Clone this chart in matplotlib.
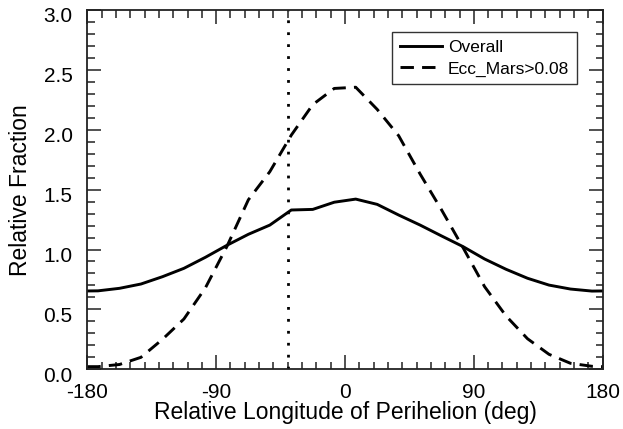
"""
Relative Fraction vs Relative Longitude of Perihelion
"""

import numpy as np
import matplotlib
matplotlib.use("Agg")
import matplotlib.pyplot as plt
import matplotlib.transforms as mtransforms
from matplotlib.ticker import MultipleLocator, FormatStrFormatter

# bin centres (deg), with the wrap points at +-180
lon = [-180, -172.5, -157.5, -142.5, -127.5, -112.5, -97.5, -82.5, -67.5,
       -52.5, -37.5, -22.5, -7.5, 7.5, 22.5, 37.5, 52.5, 67.5, 82.5,
       97.5, 112.5, 127.5, 142.5, 157.5, 172.5, 180]

overall = [0.654, 0.655, 0.676, 0.712, 0.773, 0.843, 0.935, 1.035, 1.127,
           1.204, 1.330, 1.335, 1.395, 1.421, 1.377, 1.288, 1.204, 1.113,
           1.024, 0.921, 0.835, 0.760, 0.703, 0.670, 0.653, 0.654]

ecc_mars = [0.022, 0.022, 0.040, 0.100, 0.250, 0.420, 0.680, 1.025, 1.415,
            1.650, 1.955, 2.210, 2.345, 2.355, 2.170, 1.950, 1.630, 1.330,
            1.015, 0.690, 0.445, 0.255, 0.125, 0.050, 0.025, 0.022]

mars_lon = -40  # dotted reference line

series_labels = ["Overall", "Ecc_Mars>0.08"]
x_ticks = [-180, -90, 0, 90, 180]

plt.rcParams['font.family'] = ['Liberation Sans', 'DejaVu Sans']
plt.rcParams['axes.unicode_minus'] = False

fig = plt.figure(figsize=(6.23, 4.29), dpi=100)
ax = fig.add_axes([0.1401, 0.1392, 0.8273, 0.8375])

ax.plot(lon, overall, color='black', linewidth=2.1, label=series_labels[0])
ax.plot(lon, ecc_mars, color='black', linewidth=2.1, linestyle=(0, (4.6, 2.8)),
        label=series_labels[1])
ax.axvline(mars_lon, color='black', linewidth=2.0, linestyle=(0, (1, 3.3)))

ax.set_xlim(-180, 180)
ax.set_ylim(0, 3.0)
ax.set_xticks(x_ticks)
ax.xaxis.set_minor_locator(MultipleLocator(10))
ax.yaxis.set_major_locator(MultipleLocator(0.5))
ax.yaxis.set_minor_locator(MultipleLocator(0.1))
ax.yaxis.set_major_formatter(FormatStrFormatter('%.1f'))

ax.tick_params(which='both', direction='in', top=True, right=True,
               color='#222222', labelsize=15)
ax.tick_params(which='major', length=10, width=1.1)
ax.tick_params(which='minor', length=5.4, width=1.1)
ax.tick_params(axis='x', which='major', pad=10)
ax.tick_params(axis='y', which='major', pad=10.5)
for sp in ax.spines.values():
    sp.set_linewidth(1.3)
    sp.set_color('#222222')

# IDL puts the y labels a little below their ticks
shift = mtransforms.ScaledTranslation(0, -3.6 / 72, fig.dpi_scale_trans)
for lab in ax.get_yticklabels():
    lab.set_transform(lab.get_transform() + shift)

ax.set_xlabel('Relative Longitude of Perihelion (deg)', fontsize=16.5, labelpad=-0.5)
ax.set_ylabel('Relative Fraction', fontsize=16.5, labelpad=8)

leg = ax.legend(loc='upper right', bbox_to_anchor=(0.95, 0.938),
                borderaxespad=0, fontsize=12.5, frameon=True, fancybox=False,
                handlelength=2.4, handletextpad=0.35, borderpad=0.45,
                labelspacing=0.35)
leg.get_frame().set_edgecolor('black')
leg.get_frame().set_linewidth(1.0)

fig.savefig('out.png', dpi=100)
